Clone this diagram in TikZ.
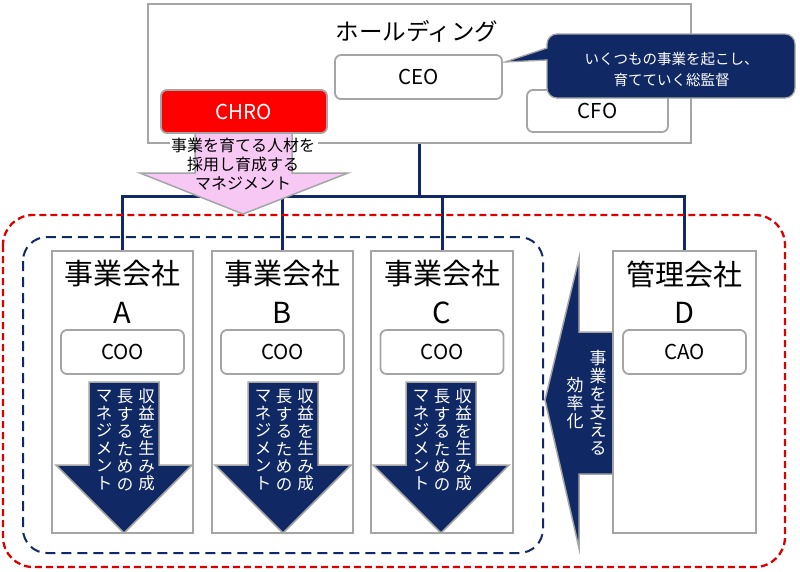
\documentclass[tikz,border=0pt]{standalone}
\usepackage{fontspec}
\setmainfont{Noto Sans CJK JP}
\definecolor{navy}{RGB}{16,40,100}
\definecolor{bordergray}{RGB}{165,165,165}
\definecolor{chrored}{RGB}{255,0,0}
\definecolor{dashred}{RGB}{220,0,0}
\definecolor{pinkfill}{RGB}{248,200,245}
\tikzset{
  boxstyle/.style={draw=bordergray, fill=white, line width=1.8pt, inner sep=0pt},
  rboxstyle/.style={boxstyle, rounded corners=6pt, font=\fontsize{20.5}{23}\selectfont},
  conn/.style={draw=navy, line width=3pt},
  navyarrow/.style={fill=navy, draw=bordergray, line width=1.5pt},
  vt/.style={text=white, align=center, inner sep=0pt, font=\fontsize{16.5}{17.5}\selectfont},
  vtd/.style={text=white, align=center, inner sep=0pt, font=\fontsize{17}{18}\selectfont},
  ttl/.style={inner sep=0pt, font=\fontsize{29}{32}\selectfont},
}
\begin{document}
\begin{tikzpicture}[x=1pt,y=-1pt]
\useasboundingbox (0,0) rectangle (800,571);
\fill[white] (0,0) rectangle (800,571);

% arrow from D (behind box D)
\draw[navyarrow] (613,332) -- (579,332) -- (579,258) -- (545,400) -- (579,548) -- (579,474) -- (613,474);

% main boxes
\node[boxstyle, minimum width=543pt, minimum height=139pt] (hold) at (419.5,73.5) {};
\node[boxstyle, minimum width=141pt, minimum height=282pt] (A) at (122.5,392) {};
\node[boxstyle, minimum width=141pt, minimum height=282pt] (B) at (282.5,392) {};
\node[boxstyle, minimum width=142pt, minimum height=282pt] (C) at (442,392) {};
\node[boxstyle, minimum width=143pt, minimum height=282pt] (D) at (684.5,392) {};

% connectors
\coordinate (bus) at (419.5,196);
\draw[conn] (hold.south) -- (bus);
\draw[conn, line cap=rect] (A.north |- bus) -- (D.north |- bus);
\foreach \n in {A,B,C,D} { \draw[conn] (\n.north) -- (\n.north |- bus); }

% dashed groups
\draw[dashred, line width=2.3pt, dash pattern=on 7pt off 4pt, rounded corners=30pt] (3,215) rectangle (785,567);
\draw[navy, line width=2pt, dash pattern=on 10pt off 6pt, rounded corners=24pt] (23,237) rectangle (543,553);

% CHRO pink arrow
\fill[white] (170,139) rectangle (318,147);
\draw[fill=pinkfill, draw=bordergray, line width=1.5pt] (195,125) -- (292,125) -- (292,173) -- (348,173) -- (243,214) -- (140,173) -- (195,173) -- cycle;

% holding contents
\node[inner sep=0pt, font=\fontsize{23.5}{28}\selectfont] (holdt) at (417,31) {ホールディング};
\node[rboxstyle, minimum width=167pt, minimum height=44pt] (ceo) at (418.5,77) {CEO};
\node[rboxstyle, minimum width=141pt, minimum height=42pt] (cfo) at (597.5,111) {CFO};
\node[rboxstyle, fill=chrored, text=white, minimum width=166pt, minimum height=43pt] (chro) at (244,111.5) {CHRO};
\node[align=center, inner sep=0pt, font=\fontsize{16}{19}\selectfont] (chrot) at (243,164) {事業を育てる人材を\\採用し育成する\\マネジメント};

% callout
\draw[fill=navy, draw=bordergray, line width=1.3pt] (505,62) -- (547,48) -- (547,44) .. controls (547,38.5) and (551.5,34) .. (557,34) -- (785,34) .. controls (790.5,34) and (795,38.5) .. (795,44) -- (795,88) .. controls (795,93.5) and (790.5,98) .. (785,98) -- (557,98) .. controls (551.5,98) and (547,93.5) .. (547,88) -- (547,60) -- cycle;
\node[text=white, align=center, inner sep=0pt, font=\fontsize{14.5}{21}\selectfont] (callt) at (671.5,69.5) {いくつもの事業を起こし、\\育てていく総監督};

% company titles and COO
\foreach \n/\cx/\l in {A/122.5/A,B/282.5/B,C/442/C} {
  \node[ttl] (\n t) at (\cx,274) {事業会社};
  \node[ttl] (\n l) at (\cx,313) {\l};
  \node[rboxstyle, minimum width=123pt, minimum height=44pt] (\n coo) at (\cx,352) {COO};
}
\node[ttl] (Dt) at (684.5,274) {管理会社};
\node[ttl] (Dl) at (684.5,313) {D};
\node[rboxstyle, minimum width=123pt, minimum height=44pt] (Dcao) at (684.5,352) {CAO};

% down arrows
\foreach \n/\cx in {A/124,B/283,C/441} {
  \draw[navyarrow] (\cx-35,382) -- (\cx+35,382) -- (\cx+35,465) -- (\cx+68,465) -- (\cx,533) -- (\cx-68,465) -- (\cx-35,465) -- cycle;
  \node[vt] (\n v1) at (\cx+22.5,440) {収\\益\\を\\生\\み\\成};
  \node[vt] (\n v2) at (\cx+1,440) {長\\す\\る\\た\\め\\の};
  \node[vt] (\n v3) at (\cx-20,440) {マ\\ネ\\ジ\\メ\\ン\\ト};
}

% D arrow text
\node[vtd] (dv1) at (598,403) {事\\業\\を\\支\\え\\る};
\node[vtd] (dv2) at (575,403) {効\\率\\化};
\end{tikzpicture}
\end{document}
